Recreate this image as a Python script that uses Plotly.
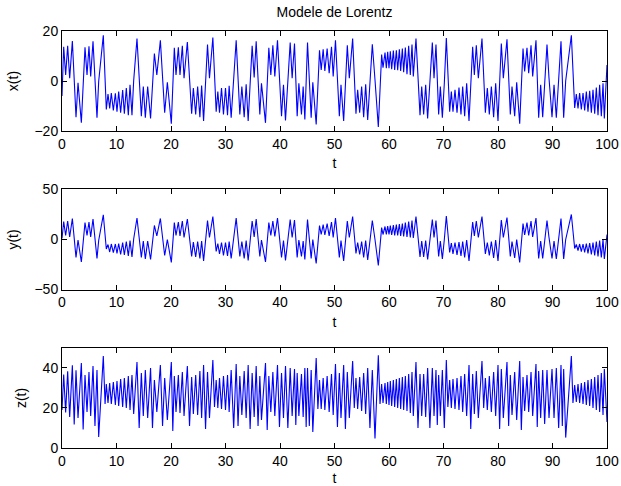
import plotly.graph_objects as go

# ---- data (local extrema of each trace) ----
t_xy = [0.00, 0.31, 0.67, 1.04, 1.41, 1.90, 2.57, 2.94, 3.55, 4.22, 4.59, 4.95, 5.26, 5.69, 6.42, 6.73, 7.58,
        8.13, 8.44, 8.75, 9.05, 9.42, 9.79, 10.09, 10.40, 10.76, 11.13, 11.44, 11.80, 12.17, 12.48, 12.84, 13.15,
        13.76, 14.56, 14.92, 15.29, 15.72, 16.25, 16.95, 17.40, 18.05, 18.84, 19.33, 20.06, 20.61, 20.92, 21.35,
        21.65, 22.08, 22.39, 23.00, 23.79, 24.10, 24.53, 24.89, 25.30, 25.62, 25.98, 26.70, 27.06, 27.68, 28.29,
        28.59, 28.90, 29.27, 29.63, 30.00, 30.37, 30.67, 31.04, 31.96, 32.63, 33.00, 33.43, 33.79, 34.16, 34.89,
        35.26, 35.63, 36.30, 36.60, 37.34, 37.95, 38.32, 38.69, 39.05, 39.54, 40.28, 40.64, 41.01, 41.87, 42.23,
        42.66, 43.15, 43.46, 43.94, 44.25, 44.56, 45.05, 45.72, 46.02, 46.64, 47.25, 47.56, 47.92, 48.23, 48.65,
        49.02, 49.45, 49.76, 50.18, 50.89, 51.19, 51.68, 52.35, 52.72, 53.33, 53.94, 54.25, 54.62, 54.98, 55.35,
        55.72, 56.09, 56.94, 57.43, 58.04, 58.65, 58.90, 59.27, 59.51, 59.76, 60.00, 60.24, 60.49, 60.80, 61.04,
        61.35, 61.59, 61.90, 62.14, 62.45, 62.69, 63.00, 63.30, 63.61, 63.91, 64.22, 64.46, 64.95, 65.69, 66.00,
        66.36, 66.73, 67.09, 67.95, 68.26, 68.62, 69.11, 69.42, 69.79, 70.15, 70.52, 71.13, 71.44, 71.74, 72.11,
        72.48, 72.84, 73.21, 73.52, 73.88, 74.25, 74.68, 75.35, 75.66, 76.02, 76.39, 77.06, 77.68, 78.04, 78.41,
        78.78, 79.20, 79.57, 80.00, 80.61, 80.98, 81.65, 82.26, 82.57, 83.06, 83.43, 83.98, 84.59, 84.89, 85.32,
        85.63, 86.06, 86.36, 86.97, 87.46, 87.83, 88.20, 88.56, 88.99, 89.36, 89.91, 90.28, 90.70, 91.56, 92.05,
        92.42, 93.46, 94.07, 94.37, 94.68, 94.98, 95.29, 95.60, 95.90, 96.21, 96.51, 96.82, 97.13, 97.43, 97.74,
        98.04, 98.35, 98.65, 98.96, 99.27, 99.51, 100.0]

x_vals = [-6, 13.7, 2.4, 14.1, 1.1, 16.0, -14.5, -0.7, -16.7, 13.5, 2.4, 13.9, 1.8, 15.9, -14.7, -0.2, 18.3,
          -11.4, -5.2, -11.0, -4.8, -11.8, -4.9, -12.3, -4.2, -12.7, -3.6, -13.1, -2.8, -13.7, -1.5, -13.7, 0.1,
          17.0, -14.1, -2.2, -14.7, -2.2, -15.0, 11.0, 2.4, 16.3, -12.7, -0.5, -17.1, 13.3, 2.4, 13.5,
          2.4, 14.1, 1.1, 15.6, -13.1, -2.8, -13.4, -2.2, -14.5, -1.8, -16.0, 14.6, 1.1, 17.4, -12.3,
          -4.2, -12.7, -2.8, -13.4, -2.8, -13.7, -1.9, -14.7, 16.3, -13.4, -2.2, -14.5, -1.3, -16.0, 14.1,
          1.4, 15.9, -13.4, -0.9, -16.7, 13.3, 2.4, 14.3, 1.8, 16.3, -14.1, -1.5, -15.8, 15.4, 1.1,
          15.0, -14.1, -0.9, -13.4, -2.2, -15.4, 15.4, -14.7, -0.5, -17.4, 12.3, 4.4, 12.7, 4.0, 13.0,
          3.1, 13.7, 1.8, 16.3, -14.1, -1.5, -16.0, 14.3, 1.1, 17.0, -13.1, -3.5, -12.7, -2.2, -14.5,
          -1.3, -15.6, 14.7, 0.5, -18.4, 10.6, 5.3, 11.4, 5.1, 11.7, 5.1, 11.9, 4.7, 12.2, 4.4,
          12.3, 4.3, 12.7, 4.0, 13.0, 3.5, 13.4, 2.7, 14.1, 2.4, 14.6, 1.8, 17.0, -13.7, -2.2,
          -13.4, -1.5, -15.0, 15.4, 1.1, 14.6, -13.4, -2.2, -14.7, -0.9, 17.2, -12.3, -4.2, -12.3, -3.5,
          -12.7, -2.6, -13.4, -2.2, -14.1, -0.9, -16.0, 13.7, 2.4, 14.3, 1.1, 17.0, -12.7, -2.8, -13.4,
          -2.2, -14.5, -0.9, -16.0, 15.0, 1.1, 16.7, -13.4, -2.2, -14.1, -0.5, -17.1, 13.0, 3.8, 13.3,
          3.1, 14.3, 1.8, 16.3, -14.7, -1.5, -14.5, -0.9, 14.6, 1.1, -14.5, -1.5, -14.7, 15.9, -14.7,
          0.1, 18.3, -10.8, -5.2, -11.0, -4.8, -11.4, -4.8, -11.8, -4.2, -12.3, -3.9, -12.7, -3.5, -13.1,
          -2.6, -13.7, -1.5, -14.1, -0.9, -15.0, 6.4]

y_vals = [1, 18, 4, 18.5, 2.5, 21, -18, -0.5, -22.5, 17, 4, 17.5, 2.5, 20.5, -19, -1, 24.7,
          -9.5, -5, -12.5, -4.5, -13, -4.5, -14, -4, -15, -3, -15.5, -2, -16.5, -1, -17.5, 0.5,
          21.5, -18, -1.5, -19.5, -1.5, -20, 14, 3.5, 21, -16, 0, -23, 17, 4, 17.5,
          3.5, 18.5, 2, 20.5, -17, -2.5, -17.5, -2, -19, -1.5, -21.5, 19, 2, 23, -12,
          -4, -14.5, -3, -16, -3, -16.5, -2, -19, 21.5, -17, -2, -19, -1, -21, 18.5,
          2.5, 20.5, -17, -0.5, -22.5, 17, 4, 18.5, 3, 21.5, -18, -1, -21, 20, 2,
          19.5, -18, -0.5, -17, -1.5, -20, 20, -19, 0, -24, 14, 5, 15, 4.5, 16,
          3.5, 17.5, 2, 21.5, -18, -1, -21.5, 18.5, 2, 23, -14, -3, -15, -2, -18,
          -1, -20.5, 19, 0, -26, 12, 5, 13, 5, 13.5, 5, 14, 4.5, 14.5, 4,
          15, 4, 15.5, 3.5, 16, 3, 17, 2.5, 18, 2, 19, 1.5, 23, -17.5, -1.5,
          -17.5, -1, -20, 20, 2, 19, -17, -1.5, -19.5, 0, 23.5, -13, -3.5, -14.5, -3,
          -15.5, -2.5, -16.5, -2, -18, -0.5, -21.5, 17.5, 3.5, 18.5, 2, 23, -14.5, -3, -16,
          -2, -18.5, -0.5, -21.5, 19.5, 2, 22, -17, -2, -18.5, 0, -23, 16, 4.5, 17,
          4, 18.5, 2.5, 21.5, -19, -1.5, -19, -0.5, 19, 2, -19, -1.5, -19.5, 21, -19.5,
          0, 25, -9, -5, -11, -4.5, -12, -4.5, -13, -4, -14, -3.5, -15, -3, -16,
          -2, -17, -1, -18, 0, -19.5, 5]

t_z = [0.00, 0.31, 0.67, 1.04, 1.41, 1.90, 2.24, 2.57, 2.94, 3.55, 3.88, 4.22, 4.59, 4.95, 5.26, 5.69, 6.05,
       6.42, 6.73, 7.58, 7.90, 8.13, 8.44, 8.75, 9.05, 9.42, 9.79, 10.09, 10.40, 10.76, 11.13, 11.44, 11.80,
       12.17, 12.48, 12.84, 13.15, 13.76, 14.16, 14.56, 14.92, 15.29, 15.72, 16.25, 16.60, 16.95, 17.40, 18.05,
       18.45, 18.84, 19.33, 20.06, 20.33, 20.61, 20.92, 21.35, 21.65, 22.08, 22.39, 23.00, 23.40, 23.79, 24.10,
       24.53, 24.89, 25.30, 25.62, 25.98, 26.34, 26.70, 27.06, 27.68, 27.98, 28.29, 28.59, 28.90, 29.27, 29.63,
       30.00, 30.37, 30.67, 31.04, 31.50, 31.96, 32.30, 32.63, 33.00, 33.43, 33.79, 34.16, 34.52, 34.89, 35.26,
       35.63, 35.97, 36.30, 36.60, 37.34, 37.65, 37.95, 38.32, 38.69, 39.05, 39.54, 39.90, 40.28, 40.64, 41.01,
       41.44, 41.87, 42.23, 42.66, 42.90, 43.15, 43.46, 43.94, 44.25, 44.56, 44.80, 45.05, 45.38, 45.72, 46.02,
       46.64, 46.95, 47.25, 47.56, 47.92, 48.23, 48.65, 49.02, 49.45, 49.76, 50.18, 50.54, 50.89, 51.19, 51.68,
       52.00, 52.35, 52.72, 53.33, 53.63, 53.94, 54.25, 54.62, 54.98, 55.35, 55.72, 56.09, 56.50, 56.94, 57.43,
       58.04, 58.35, 58.65, 58.90, 59.27, 59.51, 59.76, 60.00, 60.24, 60.49, 60.80, 61.04, 61.35, 61.59, 61.90,
       62.14, 62.45, 62.69, 63.00, 63.30, 63.61, 63.91, 64.22, 64.46, 64.95, 65.32, 65.69, 66.00, 66.36, 66.73,
       67.09, 67.50, 67.95, 68.26, 68.62, 68.86, 69.11, 69.42, 69.79, 70.15, 70.52, 70.80, 71.13, 71.44, 71.74,
       72.11, 72.48, 72.84, 73.21, 73.52, 73.88, 74.25, 74.68, 75.00, 75.35, 75.66, 76.02, 76.39, 77.06, 77.37,
       77.68, 78.04, 78.41, 78.78, 79.20, 79.57, 80.00, 80.30, 80.61, 80.98, 81.65, 81.95, 82.26, 82.57, 83.06,
       83.43, 83.98, 84.28, 84.59, 84.89, 85.32, 85.63, 86.06, 86.36, 86.97, 87.20, 87.46, 87.83, 88.20, 88.56,
       88.99, 89.36, 89.91, 90.28, 90.70, 91.13, 91.56, 91.80, 92.05, 92.42, 93.46, 93.75, 94.07, 94.37, 94.68,
       94.98, 95.29, 95.60, 95.90, 96.21, 96.51, 96.82, 97.13, 97.43, 97.74, 98.04, 98.35, 98.65, 98.96, 99.27,
       99.51, 100.0]

z_vals = [19, 36.7, 17.7, 38.3, 15.5, 41.3, 11.7, 38.8, 15, 42.5, 9.3, 36.5, 18, 38, 16, 41, 11,
          39, 5.5, 46, 22, 32, 22.5, 32.5, 22, 33, 21.5, 33.5, 21, 34.5, 20.5, 35, 20,
          36, 19, 36.5, 17, 43, 10, 37.5, 16, 39, 15, 40, 10, 34, 18, 41.5,
          11, 35, 14, 43, 8.5, 36, 18, 36.5, 17.5, 38, 16, 41, 11, 35.5, 17,
          36.5, 16.5, 38.5, 15, 41.5, 9.5, 38, 15, 44, 20.5, 34, 20, 35, 19.5, 36,
          19, 36.5, 18, 39, 10, 42, 11, 36, 16.5, 38.5, 15, 41.5, 9.5, 37.5, 15.5,
          41, 11, 36, 14, 42.5, 9, 36, 18, 38, 16, 41.5, 10.5, 37.5, 15, 41,
          10, 40, 16, 39.5, 11.5, 37.5, 16, 37, 15.5, 40, 10.5, 40, 11, 39, 8,
          45, 19.5, 34, 19.5, 35, 19, 36, 18, 37, 16.5, 42, 10.5, 37.5, 15, 41.5,
          9.5, 38, 15, 43.5, 20, 35, 19.5, 35.5, 18.5, 37.5, 17, 40, 10, 39, 4.7,
          46.3, 22, 32, 22.5, 32.5, 22, 33, 21.5, 33.5, 21, 34, 20.5, 34.5, 20, 35,
          19.5, 35.5, 19, 36, 18.5, 37, 17.5, 38, 16, 43, 10, 37, 16, 37, 15.5,
          40, 10, 40, 16, 39, 11.5, 36.5, 16, 39, 10, 44, 20.5, 34, 20, 34.5,
          19.5, 35, 19, 36, 18, 37, 16, 41.5, 9.5, 37, 17, 38.5, 15, 43.5, 20,
          35, 19, 36, 18, 38, 16, 41.5, 9.5, 39.5, 15, 43, 11, 36.5, 16.5, 38,
          14, 43.5, 9, 35.5, 18.5, 36.5, 18, 38, 16, 42, 10.5, 38.5, 15, 39, 12,
          39, 15, 39.5, 15, 40, 10, 41.5, 11, 39.5, 5.2, 46, 22.5, 31.5, 23, 32,
          22.5, 32.5, 22, 33, 21.5, 34, 21, 34.5, 20, 35.5, 19, 36.5, 18, 37.5, 16.5,
          39.5, 13]

assert len(t_xy) == len(x_vals) == len(y_vals), (len(t_xy), len(x_vals), len(y_vals))
assert len(t_z) == len(z_vals), (len(t_z), len(z_vals))

t_ticks = list(range(0, 101, 10))
x_ticks = [-20, 0, 20]
y_ticks = [-50, 0, 50]
z_ticks = [0, 20, 40]

FONT = "Liberation Sans, Arial, Helvetica, sans-serif"
BLUE = "#0000ff"

fig = go.Figure()
fig.add_trace(go.Scatter(x=t_xy, y=x_vals, mode="lines", line=dict(color=BLUE, width=1.1),
                         xaxis="x", yaxis="y", showlegend=False))
fig.add_trace(go.Scatter(x=t_xy, y=y_vals, mode="lines", line=dict(color=BLUE, width=1.1),
                         xaxis="x2", yaxis="y2", showlegend=False))
fig.add_trace(go.Scatter(x=t_z, y=z_vals, mode="lines", line=dict(color=BLUE, width=1.1),
                         xaxis="x3", yaxis="y3", showlegend=False))

common = dict(showline=True, linecolor="black", linewidth=1, mirror="ticks", ticks="inside",
              ticklen=5, tickcolor="black", showgrid=False, zeroline=False, automargin=False,
              tickfont=dict(family=FONT, size=14, color="black"))

def xax(anchor):
    return dict(common, range=[0, 100], tickvals=t_ticks, anchor=anchor, domain=[0, 1],
                title=dict(text="t", font=dict(family=FONT, size=14, color="black"), standoff=7))

def yax(anchor, rng, ticks, dom, label):
    return dict(common, range=rng, tickvals=ticks, anchor=anchor, domain=dom,
                title=dict(text=label, font=dict(family=FONT, size=14, color="black"), standoff=12))

fig.update_layout(
    width=621, height=486,
    paper_bgcolor="white", plot_bgcolor="white",
    margin=dict(l=62, r=14, t=31, b=38, autoexpand=False),
    title=dict(text="Modele de Lorentz", x=0.5, xref="paper", xanchor="center",
               y=1 - 12 / 486, yref="container", yanchor="middle",
               font=dict(family=FONT, size=14, color="black")),
    xaxis=xax("y"),
    yaxis=yax("x", [-20, 20], x_ticks, [0.760, 1.0], "x(t)"),
    xaxis2=xax("y2"),
    yaxis2=yax("x2", [-50, 50], y_ticks, [0.380, 0.620], "y(t)"),
    xaxis3=xax("y3"),
    yaxis3=yax("x3", [0, 50], z_ticks, [0.0, 0.240], "z(t)"),
)

# the page's default 8px body margin would shift the 621x486 figure; remove it
fig.write_html("out.html", config={"displayModeBar": False},
               post_script="document.body.style.margin='0';document.body.style.padding='0';")
